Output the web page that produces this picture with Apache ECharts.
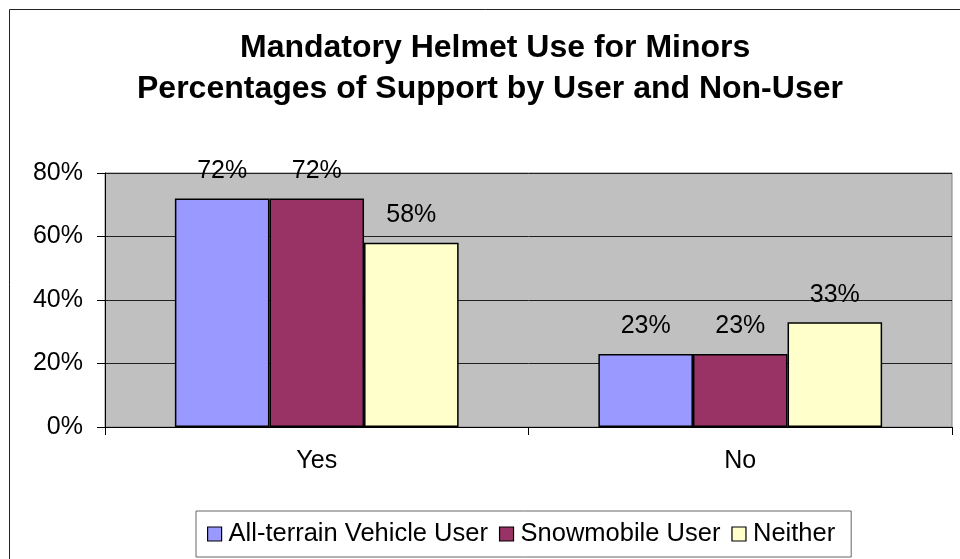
<!DOCTYPE html>
<html>
<head>
<meta charset="utf-8">
<title>Mandatory Helmet Use for Minors</title>
<script src="https://cdn.jsdelivr.net/npm/echarts@6/dist/echarts.min.js"></script>
<style>
  html, body { margin: 0; padding: 0; background: #ffffff; }
  #chart { width: 960px; height: 559px; }
</style>
</head>
<body>
<div id="chart"></div>
<script>
// data
var categories = ['Yes', 'No'];
var seriesNames = ['All-terrain Vehicle User', 'Snowmobile User', 'Neither'];
var atvValues = [72, 23];
var snowmobileValues = [72, 23];
var neitherValues = [58, 33];
var titleLines = ['Mandatory Helmet Use for Minors', 'Percentages of Support by User and Non-User'];

var FONT = "'Liberation Sans', Arial, sans-serif";
var colors = ['#9999ff', '#993366', '#ffffcc'];

var chart = echarts.init(document.getElementById('chart'), null, { renderer: 'canvas' });

function barSeries(name, values, color) {
  return {
    name: name,
    type: 'bar',
    data: values,
    barGap: 0,
    barCategoryGap: '33%',
    itemStyle: { color: color, borderColor: '#000', borderWidth: 1.5 },
    label: {
      show: true,
      position: 'top',
      distance: 15,
      formatter: '{c}%',
      color: '#000',
      fontFamily: FONT,
      fontSize: 25
    }
  };
}

var option = {
  backgroundColor: '#ffffff',
  animation: false,
  color: colors,
  // two title lines, each placed where it sits in the picture
  title: [{
    text: titleLines[0],
    left: 240,
    top: 32,
    padding: 0,
    textStyle: { fontFamily: FONT, fontSize: 32, fontWeight: 'bold', color: '#000' }
  }, {
    text: titleLines[1],
    left: 137,
    top: 73,
    padding: 0,
    textStyle: { fontFamily: FONT, fontSize: 32, fontWeight: 'bold', color: '#000' }
  }],
  graphic: [{
    type: 'rect',
    shape: { x: 9.5, y: 9.5, width: 1000, height: 1000 },
    style: { fill: 'none', stroke: '#222', lineWidth: 1 },
    silent: true
  }],
  grid: {
    left: 105,
    right: 8,
    top: 173,
    bottom: 132,
    show: true,
    backgroundColor: '#c0c0c0',
    borderColor: '#808080',
    borderWidth: 1
  },
  legend: {
    data: seriesNames,
    left: 196,
    top: 511,
    orient: 'horizontal',
    icon: 'rect',
    itemWidth: 14,
    itemHeight: 14,
    itemGap: 11,
    padding: [10, 16, 10, 11],
    borderColor: '#666',
    borderWidth: 1,
    itemStyle: { borderColor: '#000', borderWidth: 1.2 },
    textStyle: { fontFamily: FONT, fontSize: 25.5, color: '#000', padding: [0, 0, 0, 2] }
  },
  xAxis: {
    type: 'category',
    data: categories,
    axisLine: { lineStyle: { color: '#000', width: 1 } },
    axisTick: { show: true, length: 8, lineStyle: { color: '#000' } },
    axisLabel: { margin: 22, color: '#000', fontFamily: FONT, fontSize: 25 },
    splitLine: { show: false }
  },
  yAxis: {
    type: 'value',
    min: 0,
    max: 80,
    interval: 20,
    axisLine: { show: true, lineStyle: { color: '#000', width: 1 } },
    axisTick: { show: true, length: 8, lineStyle: { color: '#000' } },
    axisLabel: { margin: 22, formatter: '{value}%', color: '#000', fontFamily: FONT, fontSize: 25 },
    splitLine: { show: true, lineStyle: { color: '#202020', width: 1 } }
  },
  series: [
    barSeries(seriesNames[0], atvValues, colors[0]),
    barSeries(seriesNames[1], snowmobileValues, colors[1]),
    barSeries(seriesNames[2], neitherValues, colors[2])
  ]
};

chart.setOption(option);
</script>
</body>
</html>
